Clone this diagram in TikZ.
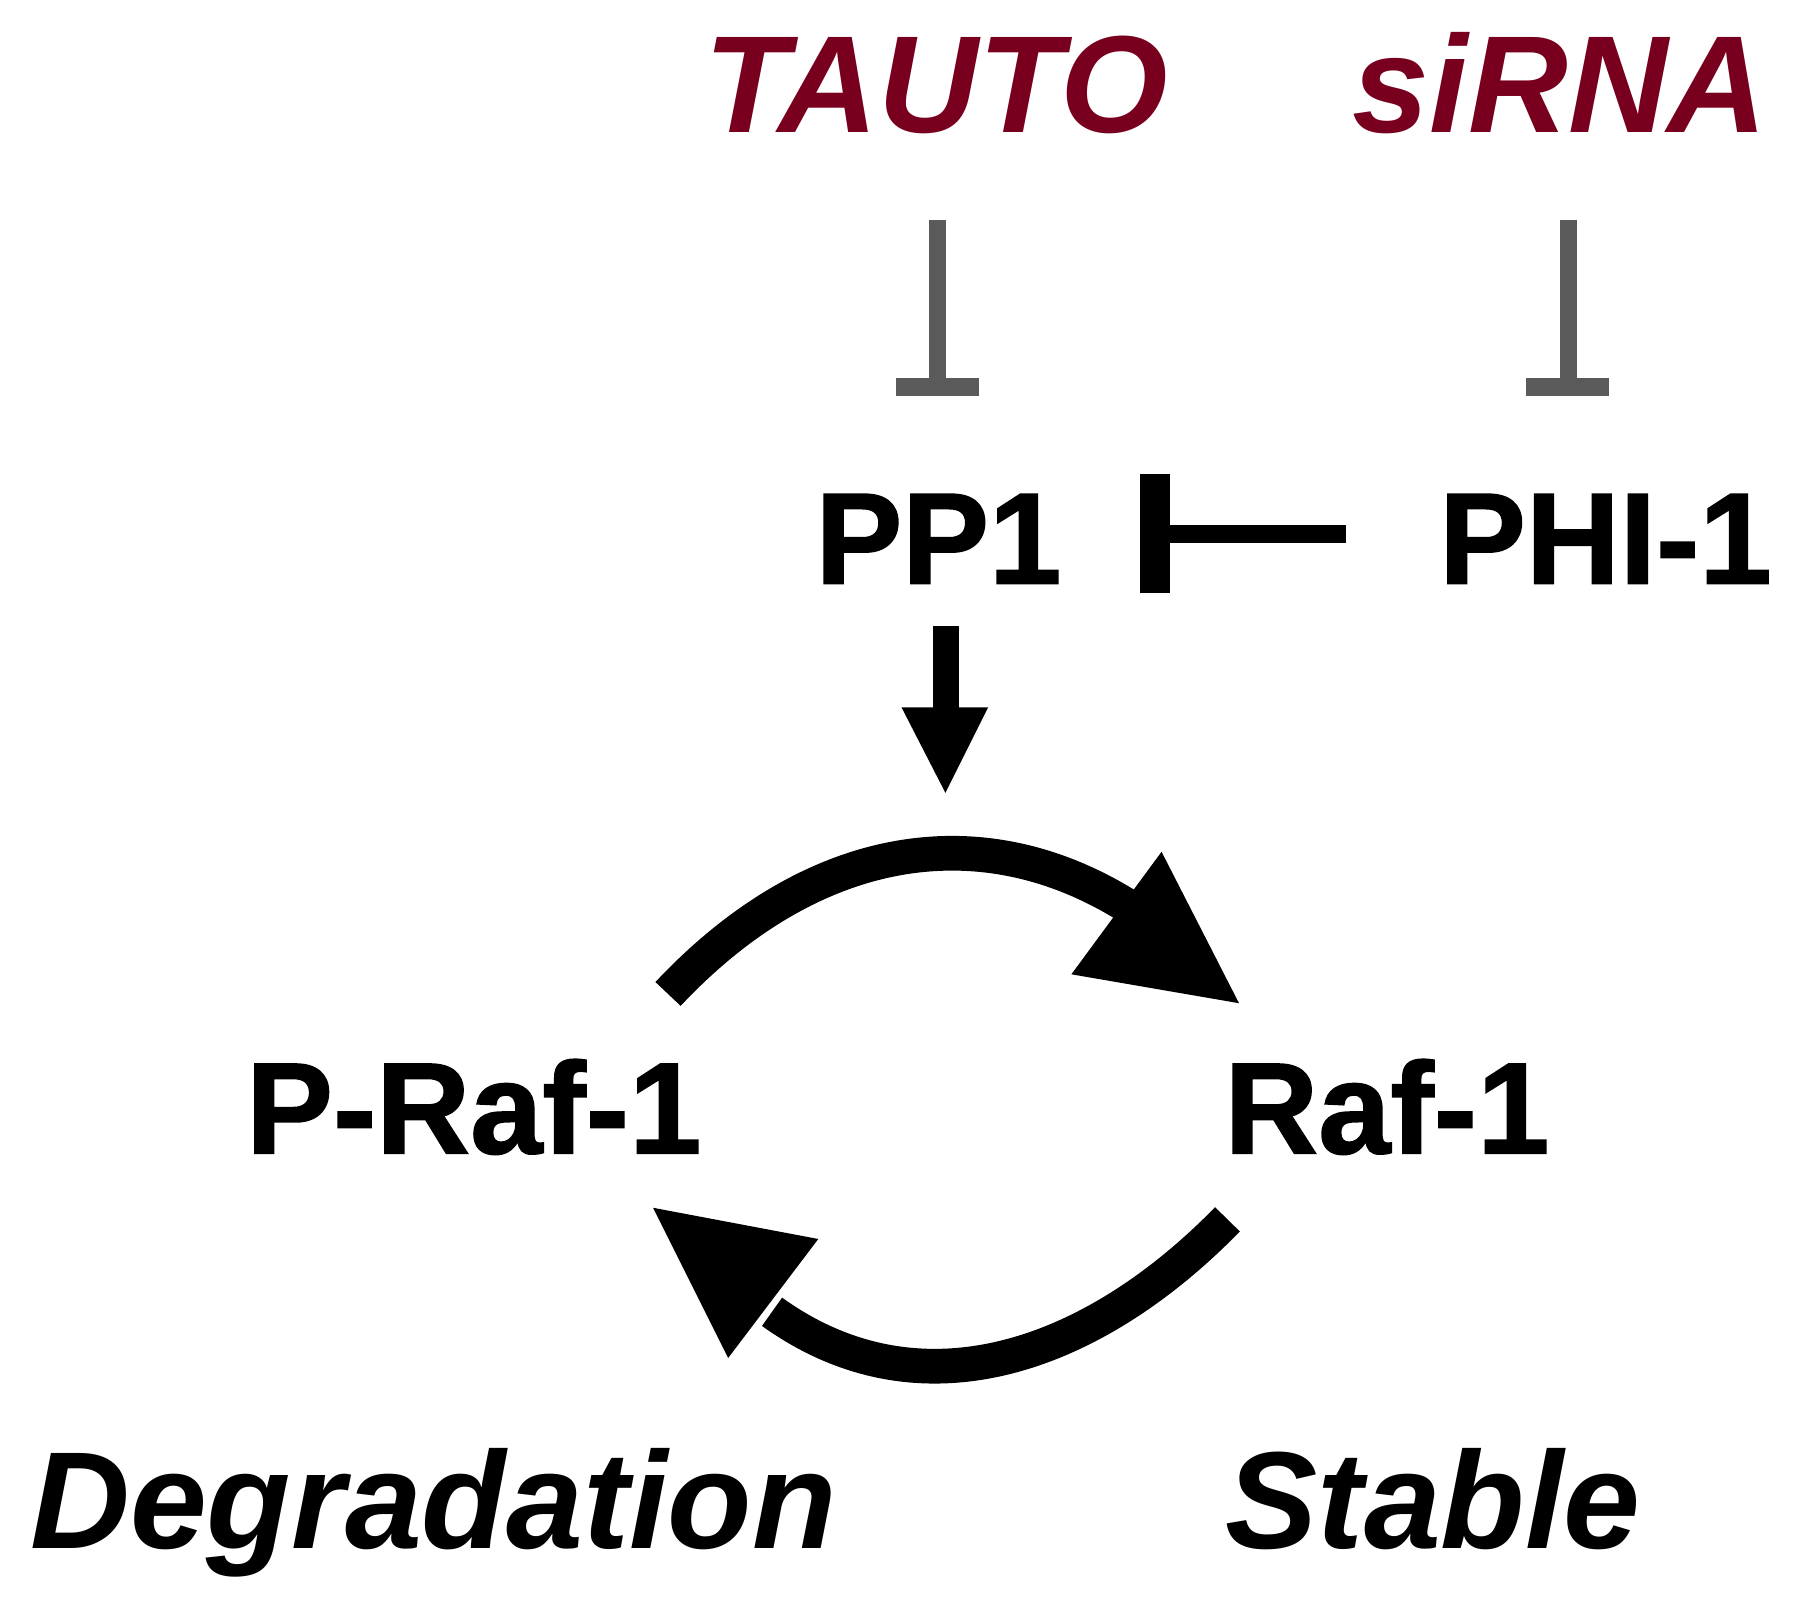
\documentclass[tikz,border=0pt]{standalone}
\usepackage{fontspec}
\setmainfont{Liberation Sans}[BoldFeatures={FakeBold=1.2}]
\begin{document}
\begin{tikzpicture}[x=0.01cm,y=-0.01cm,
  lab/.style={font=\fontsize{32}{32}\selectfont\bfseries,anchor=base},
  red/.style={lab,font=\fontsize{34}{34}\selectfont\bfseries\itshape,text={rgb,255:red,120;green,0;blue,30}},
  ital/.style={lab,font=\fontsize{34}{34}\selectfont\bfseries\itshape},
  gray inh/.style={draw={rgb,255:red,90;green,90;blue,90},line width=15\pgflinewidth*0+0.15cm}]
\useasboundingbox (0,0) rectangle (1560,1383);
\node[red] (tauto) at (810,115) {TAUTO};
\node[red] (sirna) at (1350,115) {siRNA};
\node[lab] (pp1) at (812,505) {PP1};
\node[lab] (phi) at (1389,505) {PHI-1};
\node[lab] (praf) at (410,998) {P-Raf-1};
\node[lab] (raf) at (1200,998) {Raf-1};
\node[ital] (deg) at (375,1340) {Degradation};
\node[ital] (stab) at (1240,1340) {Stable};
% gray inhibitions
\coordinate (t1) at (811,190); \coordinate (t2) at (811,335);
\coordinate (s1) at (1357,190); \coordinate (s2) at (1357,335);
\draw[gray inh,line width=0.15cm] (t1) -- (t2);
\draw[gray inh,line width=0.15cm] (775,335) -- (847,335);
\draw[gray inh,line width=0.15cm] (s1) -- (s2);
\draw[gray inh,line width=0.15cm] (1320,335) -- (1392,335);
% PHI-1 -| PP1
\coordinate (ph) at (1165,462); \coordinate (pb) at (1000,462);
\draw[line width=0.15cm] (ph) -- (pb);
\fill (986,410) rectangle (1012,513);
% PP1 arrow
\fill (807,542) rectangle (830,615);
\fill (780,612) -- (855,612) -- (818,686) -- cycle;
% top arc
\draw[line width=0.3cm] (578,860) .. controls (700,730) and (850,700) .. (985,790);
\fill (1005,737) -- (1072,868) -- (927,843) -- cycle;
% bottom arc
\draw[line width=0.3cm] (1062,1055) .. controls (950,1170) and (800,1230) .. (668,1135);
\fill (565,1045) -- (708,1072) -- (630,1175) -- cycle;
\end{tikzpicture}
\end{document}
